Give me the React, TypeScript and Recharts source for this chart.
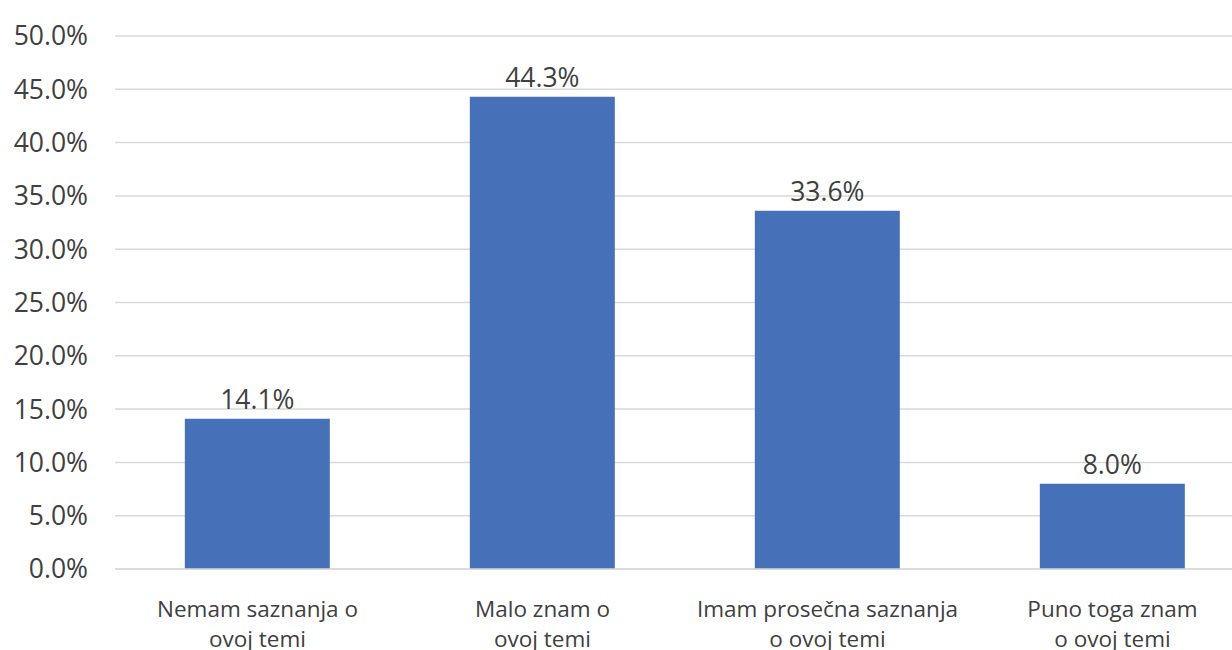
import { Bar, BarChart, CartesianGrid, LabelList, XAxis, YAxis } from "recharts";

const categories = [
  "Nemam saznanja o\novoj temi",
  "Malo znam o\novoj temi",
  "Imam prosečna saznanja\no ovoj temi",
  "Puno toga znam\no ovoj temi",
];
const shares = [14.1, 44.3, 33.6, 8.0];
const yTicks = [0, 5, 10, 15, 20, 25, 30, 35, 40, 45, 50];

const FONT = "'Open Sans', 'Noto Sans', sans-serif";
const TEXT = "#404040";

const data = categories.map((name, i) => ({ name, value: shares[i] }));

function CategoryTick({ x, y, payload }: any) {
  const lines = String(payload.value).split("\n");
  return (
    <text x={x} y={y} textAnchor="middle" fill={TEXT} fontSize={22.5} fontFamily={FONT}>
      {lines.map((line, i) => (
        <tspan key={i} x={x} dy={i === 0 ? 46 : 30}>
          {line}
        </tspan>
      ))}
    </text>
  );
}

export default function App() {
  return (
    <div
      style={{
        position: "absolute",
        left: 0,
        top: 0,
        width: 1232,
        height: 650,
        overflow: "hidden",
        background: "#fff",
      }}
    >
      <BarChart
        width={1255}
        height={650}
        data={data}
        margin={{ top: 36, right: 0, bottom: 0, left: 0 }}
        barCategoryGap="24.5%"
      >
        <CartesianGrid vertical={false} stroke="#d9d9d9" strokeWidth={1.5} />
        <XAxis
          dataKey="name"
          height={81}
          tickLine={false}
          tickSize={0}
          axisLine={{ stroke: "#d9d9d9", strokeWidth: 1.5 }}
          tick={<CategoryTick />}
          interval={0}
        />
        <YAxis
          width={115}
          domain={[0, 50]}
          ticks={yTicks}
          tickFormatter={(v: number) => `${v.toFixed(1)}%`}
          axisLine={false}
          tickLine={false}
          tickSize={0}
          tickMargin={27}
          tick={{ fill: TEXT, fontSize: 26.5, fontFamily: FONT }}
        />
        <Bar dataKey="value" fill="#4671b8" isAnimationActive={false}>
          <LabelList
            dataKey="value"
            position="top"
            offset={10}
            formatter={(v: any) => `${Number(v).toFixed(1)}%`}
            fill={TEXT}
            fontSize={26.5}
            fontFamily={FONT}
          />
        </Bar>
      </BarChart>
    </div>
  );
}
